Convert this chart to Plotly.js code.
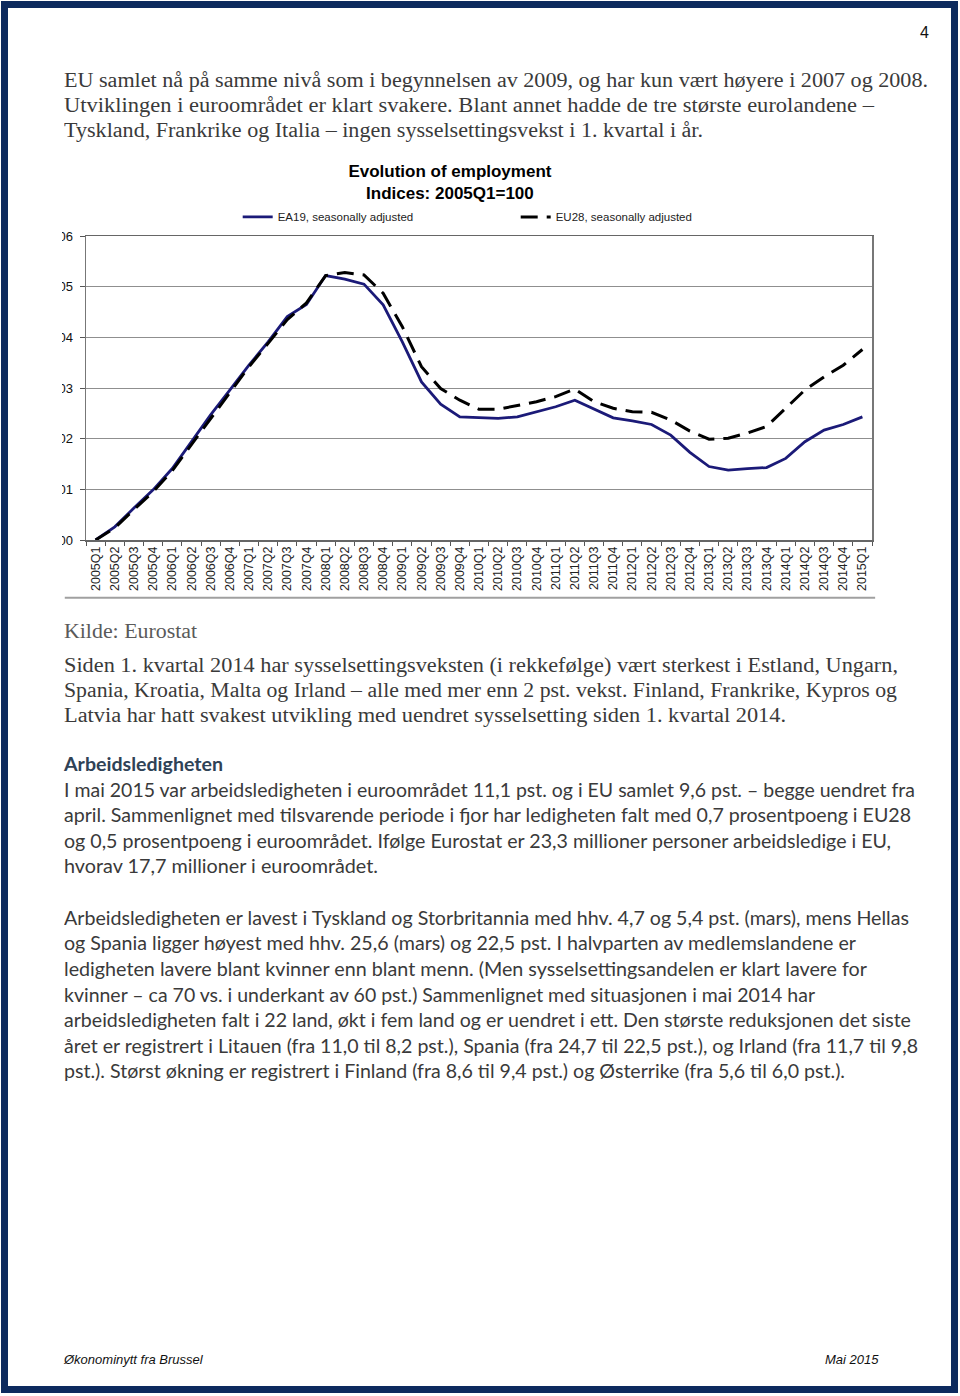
<!DOCTYPE html>
<html>
<head>
<meta charset="utf-8">
<script src="https://cdn.plot.ly/plotly-3.0.1.min.js"></script>
<style>
  html, body { margin:0; padding:0; background:#fff; }
  body { width:960px; height:1396px; position:relative; overflow:hidden; }
  #frame { position:absolute; left:1px; top:1px; width:957px; height:1392px; border:7px solid #0d2a5e; box-sizing:border-box; }
  .ln { position:absolute; left:64px; white-space:nowrap; transform-origin:0 50%; line-height:25px; }
  .serif { font-family:"Liberation Serif","Times New Roman",serif; font-size:20px; color:#3a3a3a; }
  .sans { font-family:Lato,"Noto Sans",sans-serif; font-size:18.5px; color:#3a3a3a; }
  .head { font-family:Lato,"Noto Sans",sans-serif; font-size:18.5px; font-weight:bold; color:#2f4256; }
  .foot { font-family:"Liberation Sans",Arial,sans-serif; font-style:italic; font-size:13px; color:#111; position:absolute; white-space:nowrap; }
  #pnum { position:absolute; left:920px; top:24px; font-family:"Liberation Sans Narrow","Liberation Sans",Arial,sans-serif; font-size:16px; color:#111; }
  #clip { position:absolute; left:62px; top:150px; width:820px; height:455px; overflow:hidden; }
  #chart { position:absolute; left:-40px; top:0; width:880px; height:455px; }
</style>
</head>
<body>
<div id="frame"></div>
<div id="pnum">4</div>

<div class="ln serif" style="top:68px" data-w="864">EU samlet nå på samme nivå som i begynnelsen av 2009, og har kun vært høyere i 2007 og 2008.</div>
<div class="ln serif" style="top:93px" data-w="810">Utviklingen i euroområdet er klart svakere. Blant annet hadde de tre største eurolandene –</div>
<div class="ln serif" style="top:118px" data-w="639">Tyskland, Frankrike og Italia – ingen sysselsettingsvekst i 1. kvartal i år.</div>

<div id="clip"><div id="chart"></div></div>

<div class="ln serif" style="top:619px;color:#5a5a5a" data-w="133">Kilde: Eurostat</div>
<div class="ln serif" style="top:653px" data-w="834">Siden 1. kvartal 2014 har sysselsettingsveksten (i rekkefølge) vært sterkest i Estland, Ungarn,</div>
<div class="ln serif" style="top:678px" data-w="833">Spania, Kroatia, Malta og Irland – alle med mer enn 2 pst. vekst. Finland, Frankrike, Kypros og</div>
<div class="ln serif" style="top:703px" data-w="722">Latvia har hatt svakest utvikling med uendret sysselsetting siden 1. kvartal 2014.</div>

<div class="ln head" style="top:752px" data-w="159">Arbeidsledigheten</div>
<div class="ln sans" style="top:778px" data-w="851">I mai 2015 var arbeidsledigheten i euroområdet 11,1 pst. og i EU samlet 9,6 pst. – begge uendret fra</div>
<div class="ln sans" style="top:803px" data-w="847">april. Sammenlignet med tilsvarende periode i fjor har ledigheten falt med 0,7 prosentpoeng i EU28</div>
<div class="ln sans" style="top:829px" data-w="827">og 0,5 prosentpoeng i euroområdet. Ifølge Eurostat er 23,3 millioner personer arbeidsledige i EU,</div>
<div class="ln sans" style="top:854px" data-w="314">hvorav 17,7 millioner i euroområdet.</div>

<div class="ln sans" style="top:906px" data-w="845">Arbeidsledigheten er lavest i Tyskland og Storbritannia med hhv. 4,7 og 5,4 pst. (mars), mens Hellas</div>
<div class="ln sans" style="top:931px" data-w="792">og Spania ligger høyest med hhv. 25,6 (mars) og 22,5 pst. I halvparten av medlemslandene er</div>
<div class="ln sans" style="top:957px" data-w="803">ledigheten lavere blant kvinner enn blant menn. (Men sysselsettingsandelen er klart lavere for</div>
<div class="ln sans" style="top:983px" data-w="751">kvinner – ca 70 vs. i underkant av 60 pst.) Sammenlignet med situasjonen i mai 2014 har</div>
<div class="ln sans" style="top:1008px" data-w="847">arbeidsledigheten falt i 22 land, økt i fem land og er uendret i ett. Den største reduksjonen det siste</div>
<div class="ln sans" style="top:1034px" data-w="854">året er registrert i Litauen (fra 11,0 til 8,2 pst.), Spania (fra 24,7 til 22,5 pst.), og Irland (fra 11,7 til 9,8</div>
<div class="ln sans" style="top:1059px" data-w="781">pst.). Størst økning er registrert i Finland (fra 8,6 til 9,4 pst.) og Østerrike (fra 5,6 til 6,0 pst.).</div>

<div class="foot" style="left:64px;top:1352px">Økonominytt fra Brussel</div>
<div class="foot" style="left:825px;top:1352px">Mai 2015</div>

<script>
const quarters = ["2005Q1","2005Q2","2005Q3","2005Q4","2006Q1","2006Q2","2006Q3","2006Q4",
  "2007Q1","2007Q2","2007Q3","2007Q4","2008Q1","2008Q2","2008Q3","2008Q4",
  "2009Q1","2009Q2","2009Q3","2009Q4","2010Q1","2010Q2","2010Q3","2010Q4",
  "2011Q1","2011Q2","2011Q3","2011Q4","2012Q1","2012Q2","2012Q3","2012Q4",
  "2013Q1","2013Q2","2013Q3","2013Q4","2014Q1","2014Q2","2014Q3","2014Q4","2015Q1"];

const ea19 = [100.00,100.26,100.63,100.99,101.41,101.94,102.47,102.96,
  103.45,103.91,104.41,104.65,105.22,105.15,105.05,104.64,
  103.91,103.12,102.68,102.43,102.41,102.40,102.43,102.53,
  102.63,102.76,102.58,102.41,102.35,102.28,102.07,101.73,
  101.45,101.38,101.41,101.43,101.61,101.94,102.17,102.28,102.43];

const eu28 = [100.00,100.24,100.60,100.95,101.37,101.88,102.40,102.90,
  103.42,103.88,104.35,104.68,105.22,105.28,105.23,104.87,
  104.21,103.42,102.99,102.76,102.58,102.58,102.66,102.73,
  102.83,102.98,102.73,102.60,102.53,102.52,102.37,102.15,
  101.99,102.01,102.11,102.24,102.60,102.96,103.22,103.45,103.76];

const seriesNames = ["EA19, seasonally adjusted", "EU28, seasonally adjusted"];
const yTicks = [100,101,102,103,104,105,106];
const yTickText = ["100","101","102","103","104","105","106"];

const traces = [
  { x: quarters, y: ea19, type:"scatter", mode:"lines", name: seriesNames[0],
    line:{ color:"#1b1a78", width:2.8 } },
  { x: quarters, y: eu28, type:"scatter", mode:"lines", name: seriesNames[1],
    line:{ color:"#000000", width:3, dash:"17px,9px" } }
];

const layout = {
  width:880, height:455,
  margin:{ l:64, r:30, t:86, b:65 },
  paper_bgcolor:"rgba(0,0,0,0)", plot_bgcolor:"#fff",
  font:{ family:"Liberation Sans, Arial, sans-serif", color:"#111" },
  title:{ text:"<b>Evolution of employment<br>Indices: 2005Q1=100</b>",
    font:{ size:17, color:"#000", family:"Liberation Sans, Arial, sans-serif" },
    x:0.463, xref:"paper", xanchor:"center", y:0.941, yref:"container", yanchor:"top" },
  showlegend:true,
  legend:{ orientation:"h", x:0.193, xanchor:"left", y:1.015, yanchor:"bottom",
    font:{ size:11.5, color:"#222" }, entrywidth:233, entrywidthmode:"pixels",
    bgcolor:"rgba(0,0,0,0)", tracegroupgap:0 },
  xaxis:{ type:"category", range:[-0.5, 40.5], tickangle:-90,
    tickfont:{ size:12.5, color:"#222" }, ticks:"outside", ticklen:4, tickcolor:"#555",
    tickson:"boundaries", showgrid:false, showline:true, linecolor:"#666", linewidth:1.5,
    mirror:true, zeroline:false, fixedrange:true },
  yaxis:{ range:[100,106], tickvals:yTicks, ticktext:yTickText, ticks:"outside", ticklen:5,
    ticklabelstandoff:4,
    tickcolor:"#555", tickfont:{ size:13, color:"#111" }, showgrid:true, gridcolor:"#8f8f8f",
    gridwidth:1, showline:true, linecolor:"#777", linewidth:1.5, mirror:true,
    zeroline:false, fixedrange:true },
  shapes:[ { type:"line", xref:"paper", yref:"paper", x0:-0.027, x1:1.004, y0:-0.19, y1:-0.19,
    line:{ color:"#a0a0a0", width:2 } } ]
};

Plotly.newPlot("chart", traces, layout, { displayModeBar:false, staticPlot:true });

function fitLines(){
  document.querySelectorAll(".ln").forEach(el => {
    el.style.transform = "none";
    const w = el.getBoundingClientRect().width;
    const target = parseFloat(el.dataset.w);
    if (w > 0 && target) el.style.transform = "scaleX(" + (target / w).toFixed(4) + ")";
  });
}
if (document.fonts && document.fonts.ready) document.fonts.ready.then(fitLines); else fitLines();
fitLines();
</script>
</body>
</html>
